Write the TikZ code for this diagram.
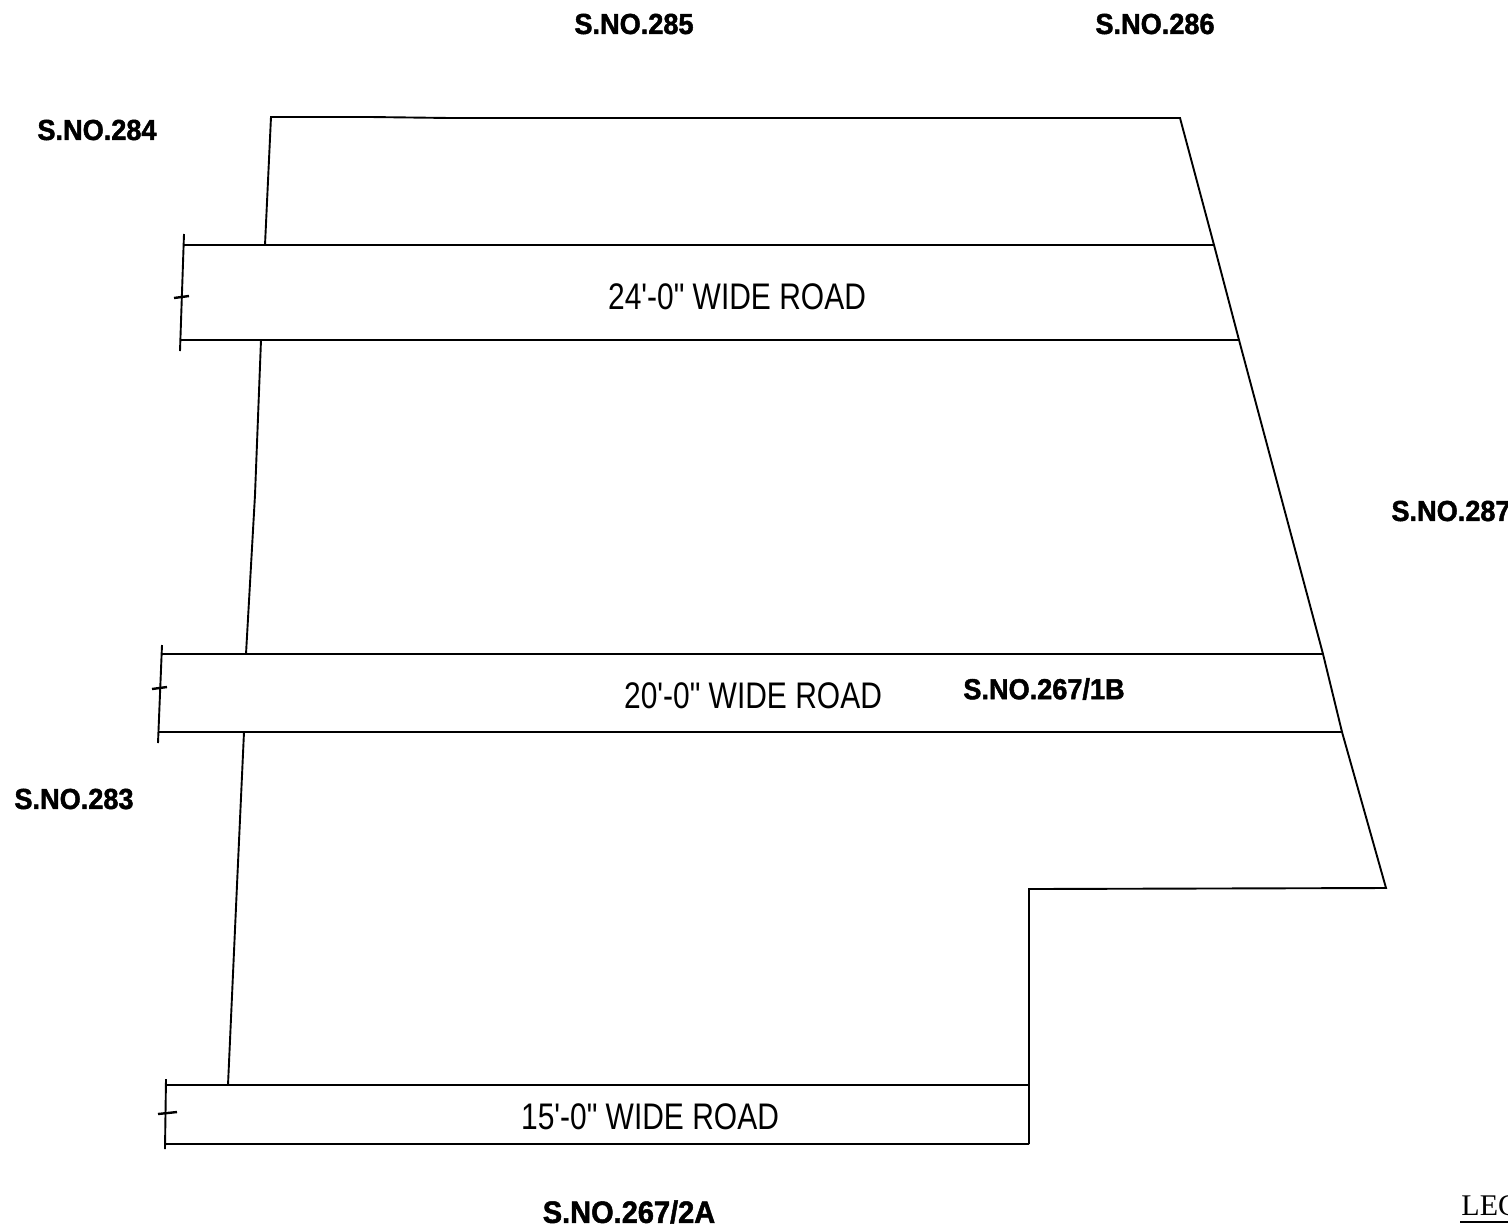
\documentclass[tikz,border=0pt]{standalone}
\usepackage{fontspec}
\setmainfont{Liberation Sans}
\newfontfamily\roadfont[FakeStretch=0.81]{Liberation Sans}
\newfontfamily\surveyfont[FakeStretch=0.935,FakeBold=1.6]{Liberation Sans Bold}
\newfontfamily\legendfont{Liberation Serif}
\begin{document}
\begin{tikzpicture} [
        x=0.5pt, y=-0.5pt,
        survey/.style={font=\surveyfont\fontsize{14.5}{16}\selectfont, inner sep=0pt},
        road/.style={font=\roadfont\fontsize{18.5}{20}\selectfont, inner sep=0pt},
        line/.style={draw=black, line width=0.95pt},
        breakline/.style={draw=black, line width=0.95pt},
        tick/.style={draw=black, line width=1.2pt} ]
    \useasboundingbox (0,0) rectangle (1508,1227);
    % plot boundary
    \coordinate (b1) at (228,1085);
    \coordinate (b2) at (237,885);
    \coordinate (b3) at (244,732);
    \coordinate (b4) at (246,654);
    \coordinate (b5) at (255,495);
    \coordinate (b6) at (261,340);
    \coordinate (b7) at (265,245);
    \coordinate (b8) at (271,117);
    \coordinate (b8a) at (370,117);
    \coordinate (b8b) at (450,118);
    \coordinate (b9) at (1180,118);
    \coordinate (b10) at (1214,245);
    \coordinate (b11) at (1239,340);
    \coordinate (b12) at (1323,654);
    \coordinate (b13) at (1342,732);
    \coordinate (b14) at (1386,888);
    \coordinate (b15) at (1029,889);
    \coordinate (b16) at (1029,1085);
    \coordinate (b17) at (1029,1144);
    \draw[line] (b1) -- (b2) -- (b3);
    \draw[line] (b4) -- (b5) -- (b6);
    \draw[line] (b7) -- (b8) -- (b8a) -- (b8b) -- (b9) -- (b10) -- (b11) -- (b12) -- (b13) -- (b14) -- (b15) -- (b16) -- (b17);
    % roads
    \coordinate (r1) at (184,245);
    \coordinate (r2) at (181,340);
    \coordinate (r3) at (162,654);
    \coordinate (r4) at (159,732);
    \coordinate (r5) at (166,1085);
    \coordinate (r6) at (165,1144);
    \draw[line] (r1) -- (b10);
    \draw[line] (r2) -- (b11);
    \draw[line] (r3) -- (b12);
    \draw[line] (r4) -- (b13);
    \draw[line] (r5) -- (b16);
    \draw[line] (r6) -- (b17);
    % road ends
    \coordinate (e1) at (184,234);
    \coordinate (e2) at (180,351);
    \coordinate (t1) at (174,298);
    \coordinate (t2) at (189,296);
    \coordinate (e3) at (162,645);
    \coordinate (e4) at (158,743);
    \coordinate (t3) at (152,689);
    \coordinate (t4) at (167,687);
    \coordinate (e5) at (166,1079);
    \coordinate (e6) at (165,1149);
    \coordinate (t5) at (158,1114);
    \coordinate (t6) at (177,1112);
    \draw[breakline] (e1) -- (e2);
    \draw[tick] (t1) -- (t2);
    \draw[breakline] (e3) -- (e4);
    \draw[tick] (t3) -- (t4);
    \draw[breakline] (e5) -- (e6);
    \draw[tick] (t5) -- (t6);
    % labels
    \node[road] (road24) at (737,297) {24'-0" WIDE ROAD};
    \node[road] (road20) at (753,696) {20'-0" WIDE ROAD};
    \node[road] (road15) at (650,1117) {15'-0" WIDE ROAD};
    \node[survey] (s285) at (634,24) {S.NO.285};
    \node[survey] (s286) at (1155,24) {S.NO.286};
    \node[survey] (s284) at (97,130) {S.NO.284};
    \node[survey] (s287) at (1451,511) {S.NO.287};
    \node[survey] (s267b) at (1044,689) {S.NO.267/1B};
    \node[survey] (s283) at (74,799) {S.NO.283};
    \node[survey, font=\surveyfont\fontsize{15.5}{16}\selectfont] (s267a) at (629,1212) {S.NO.267/2A};
    \node[anchor=base west, inner sep=0pt, font=\legendfont\fontsize{15}{16}\selectfont] (leg) at (1461,1215) {LEG};
    \coordinate (u1) at (1460,1222);
    \coordinate (u2) at (1508,1222);
    \draw[line] (u1) -- (u2);
\end{tikzpicture}
\end{document}
